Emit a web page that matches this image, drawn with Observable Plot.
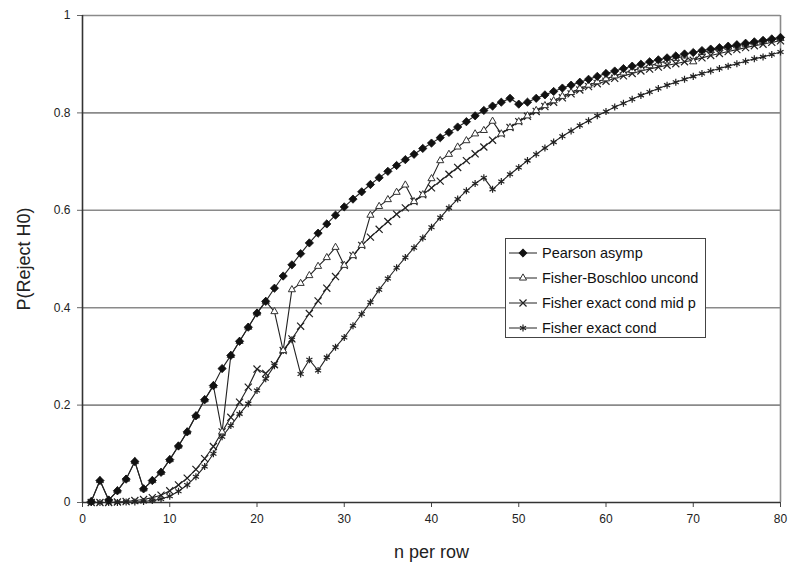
<!DOCTYPE html>
<html><head><meta charset="utf-8">
<script src="https://cdn.jsdelivr.net/npm/d3@7"></script>
<script src="https://cdn.jsdelivr.net/npm/@observablehq/plot@0.6"></script>
<style>
body{margin:0;background:#fff;}
#chart{position:relative;width:788px;height:564px;}
#legend{position:absolute;left:505px;top:238px;width:201px;height:100px;box-sizing:border-box;border:1px solid #444;background:#fff;font-family:"Liberation Sans",Arial,Helvetica,sans-serif;font-size:14.5px;color:#111;}
.row{position:absolute;left:2px;height:20px;display:flex;align-items:center;white-space:nowrap;}
.row svg{margin-right:3px;}
</style></head><body><div id="chart"></div>
<script>
const n = d3.range(1, 81);
const names = ["Pearson asymp", "Fisher-Boschloo uncond", "Fisher exact cond mid p", "Fisher exact cond"];
const xTicks = [0, 10, 20, 30, 40, 50, 60, 70, 80];
const yTicks = [0, 0.2, 0.4, 0.6, 0.8, 1];

const pearson = [
 0.002,0.045,0.005,0.024,0.048,0.084,0.028,0.045,0.062,0.088,
 0.116,0.145,0.178,0.211,0.240,0.275,0.302,0.331,0.360,0.389,
 0.413,0.440,0.465,0.488,0.511,0.533,0.553,0.572,0.590,0.607,
 0.623,0.638,0.653,0.667,0.680,0.692,0.704,0.715,0.727,0.738,
 0.749,0.760,0.771,0.782,0.794,0.805,0.814,0.822,0.830,0.818,
 0.822,0.830,0.837,0.844,0.851,0.857,0.863,0.869,0.875,0.881,
 0.886,0.891,0.896,0.900,0.905,0.909,0.913,0.917,0.921,0.924,
 0.928,0.931,0.934,0.937,0.940,0.943,0.946,0.949,0.952,0.955];
const boschloo = [
 0.002,0.045,0.005,0.024,0.048,0.084,0.028,0.045,0.062,0.088,
 0.116,0.145,0.178,0.211,0.240,0.145,0.302,0.331,0.360,0.389,
 0.413,0.392,0.312,0.437,0.450,0.466,0.485,0.503,0.524,0.487,
 0.507,0.528,0.590,0.608,0.622,0.637,0.652,0.618,0.632,0.665,
 0.702,0.715,0.730,0.743,0.757,0.764,0.783,0.757,0.770,0.782,
 0.794,0.805,0.815,0.825,0.834,0.842,0.850,0.857,0.864,0.870,
 0.876,0.882,0.887,0.892,0.897,0.902,0.907,0.912,0.917,0.905,
 0.924,0.928,0.932,0.935,0.938,0.941,0.944,0.947,0.950,0.953];
const midP = [
 0.000,0.000,0.000,0.001,0.002,0.004,0.006,0.010,0.015,0.024,
 0.036,0.050,0.068,0.090,0.115,0.145,0.175,0.206,0.237,0.274,
 0.265,0.283,0.312,0.336,0.362,0.388,0.414,0.440,0.464,0.487,
 0.507,0.528,0.545,0.561,0.577,0.592,0.605,0.618,0.632,0.646,
 0.660,0.674,0.688,0.702,0.716,0.730,0.744,0.757,0.770,0.782,
 0.793,0.803,0.813,0.822,0.831,0.839,0.847,0.854,0.860,0.865,
 0.871,0.876,0.881,0.886,0.890,0.894,0.898,0.901,0.905,0.908,
 0.913,0.918,0.922,0.926,0.930,0.934,0.938,0.941,0.945,0.948];
const exactCond = [
 0.000,0.000,0.000,0.000,0.001,0.001,0.002,0.004,0.007,0.013,
 0.023,0.036,0.053,0.074,0.100,0.135,0.158,0.182,0.203,0.230,
 0.254,0.281,0.312,0.334,0.264,0.293,0.271,0.298,0.319,0.339,
 0.363,0.387,0.411,0.437,0.460,0.482,0.503,0.523,0.543,0.565,
 0.585,0.605,0.623,0.640,0.655,0.667,0.643,0.659,0.674,0.688,
 0.702,0.715,0.728,0.740,0.752,0.763,0.774,0.784,0.794,0.803,
 0.812,0.820,0.828,0.836,0.843,0.850,0.857,0.863,0.869,0.875,
 0.881,0.886,0.891,0.896,0.901,0.906,0.911,0.915,0.920,0.925];

const diamond = {draw(ctx, size) {
  const r = Math.sqrt(size / 2);
  ctx.moveTo(0, -r); ctx.lineTo(r, 0); ctx.lineTo(0, r); ctx.lineTo(-r, 0); ctx.closePath();
}};
const styles = [
  {symbol: diamond, fill: "#111", stroke: "#111", r: 3.3, strokeWidth: 0.8},
  {symbol: d3.symbolTriangle2, fill: "white", stroke: "#333", r: 3.4, strokeWidth: 1},
  {symbol: d3.symbolTimes, fill: "none", stroke: "#222", r: 3.3, strokeWidth: 1.2},
  {symbol: d3.symbolAsterisk, fill: "none", stroke: "#222", r: 3.3, strokeWidth: 1.2}
];
const values = [pearson, boschloo, midP, exactCond];
const tables = values.map((v, k) => n.map((x, i) => ({n: x, p: v[i], series: names[k]})));

const lineMarks = tables.map(t => Plot.line(t, {x: "n", y: "p", stroke: "#222", strokeWidth: 1.1}));
const dotMarks = tables.map((t, k) => Plot.dot(t, {x: "n", y: "p", symbol: styles[k].symbol, r: styles[k].r, fill: styles[k].fill, stroke: styles[k].stroke, strokeWidth: styles[k].strokeWidth})).reverse();

const chart = Plot.plot({
  width: 788, height: 564,
  marginLeft: 82, marginRight: 8, marginTop: 15, marginBottom: 62,
  x: {domain: [0, 80]},
  y: {domain: [0, 1]},
  style: {fontFamily: '"Liberation Sans", Arial, Helvetica, sans-serif', fontSize: "12px", color: "#222", background: "white"},
  marks: [
    Plot.ruleY(yTicks.filter(d => d > 0), {stroke: "#8a8a8a", strokeWidth: 1.6}),
    Plot.ruleX([80], {stroke: "#8a8a8a", strokeWidth: 1.6}),
    Plot.axisX({ticks: xTicks, tickSize: 5, tickPadding: 7, label: null, stroke: "#444", fontSize: 12, tickFormat: d => String(d)}),
    Plot.axisY({ticks: yTicks, tickSize: 5, tickPadding: 7, label: null, stroke: "#666", fontSize: 12, tickFormat: d => String(d)}),
    Plot.ruleX([0], {stroke: "#333", strokeWidth: 1.6}),
    Plot.ruleY([0], {stroke: "#333", strokeWidth: 1.6}),
    ...lineMarks,
    ...dotMarks,
    Plot.text(["n per row"], {text: d => d, frameAnchor: "bottom", textAnchor: "middle", lineAnchor: "middle", dy: 50, fontSize: 18, fill: "#222"}),
    Plot.text(["P(Reject H0)"], {text: d => d, frameAnchor: "left", textAnchor: "middle", lineAnchor: "middle", rotate: -90, dx: -58, fontSize: 18, fill: "#222"})
  ]
});
const container = document.getElementById("chart");
container.appendChild(chart);

const legend = document.createElement("div");
legend.id = "legend";
names.forEach((name, k) => {
  const row = document.createElement("div");
  row.className = "row";
  row.style.top = (13.5 + 25 * k - 10) + "px";
  const s = styles[k];
  const svg = d3.create("svg").attr("width", 31).attr("height", 16);
  svg.append("line").attr("x1", 1).attr("x2", 29).attr("y1", 8).attr("y2", 8).attr("stroke", "#222").attr("stroke-width", 1);
  svg.append("path").attr("transform", "translate(15,8)")
    .attr("d", d3.symbol(s.symbol, Math.PI * s.r * s.r)())
    .attr("fill", s.fill).attr("stroke", s.stroke).attr("stroke-width", s.strokeWidth);
  row.appendChild(svg.node());
  const span = document.createElement("span");
  span.textContent = name;
  row.appendChild(span);
  legend.appendChild(row);
});
container.appendChild(legend);
</script></body></html>
